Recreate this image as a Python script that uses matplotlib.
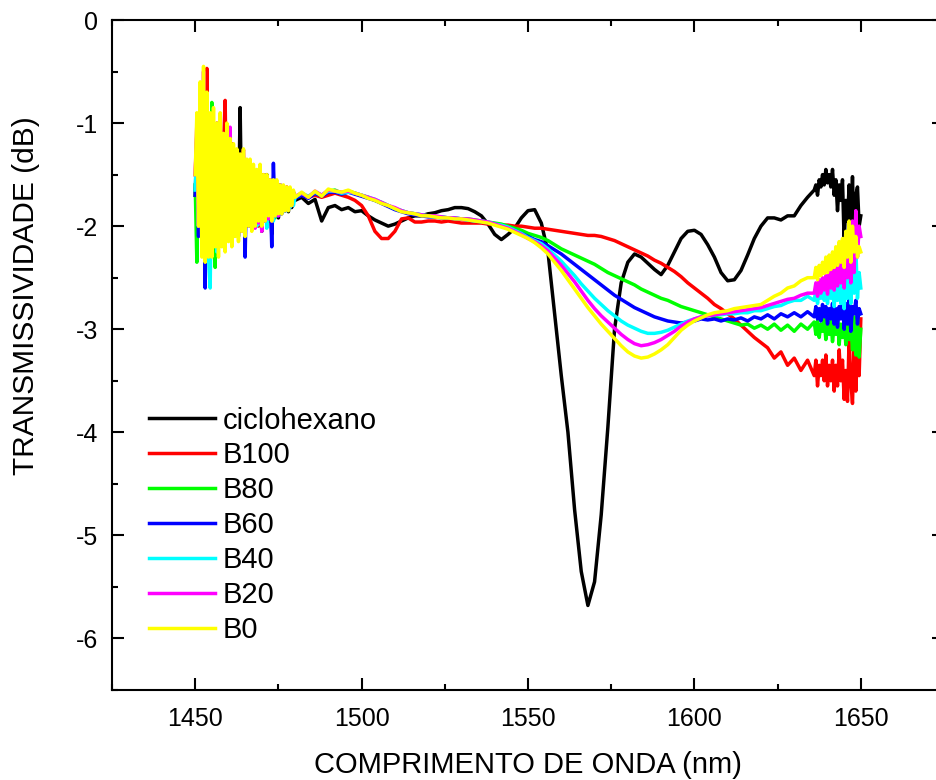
import numpy as np
import matplotlib
matplotlib.use("Agg")
import matplotlib.pyplot as plt
from matplotlib.ticker import MultipleLocator

plt.rcParams['font.family'] = ['Liberation Sans', 'DejaVu Sans']

# ---- shared wavelength grid (nm) ----
x_left = np.arange(1450.0, 1480.0, 0.5)     # 60 points, noisy start
x_mid = np.arange(1480.0, 1636.0, 2.0)      # 78 points
x_right = np.arange(1636.0, 1650.25, 0.5)   # 29 points, noisy end
wavelength = np.concatenate([x_left, x_mid, x_right])

labels = ['ciclohexano', 'B100', 'B80', 'B60', 'B40', 'B20', 'B0']
colors = ['#000000', '#FF0000', '#00FF00', '#0000FF', '#00FFFF', '#FF00FF', '#FFFF00']

# ---- ciclohexano ----
cic_left = [-1.7, -1.3, -1.9, -1.0, -2.1, -1.2, -2.2, -1.1, -2.0, -1.3, -2.2, -1.2, -2.0, -1.4, -2.1,
            -1.3, -2.0, -1.4, -2.1, -1.3, -1.95, -1.4, -2.05, -1.3, -2.0, -1.35, -1.95, -0.85, -2.0, -1.4,
            -1.95, -1.45, -2.0, -1.5, -1.9, -1.5,
            -2.0, -1.5, -1.95, -1.5, -2.05, -1.55, -1.95, -1.5, -1.95, -1.6, -2.08, -1.55, -1.9, -1.6,
            -1.92, -1.62, -1.88, -1.62, -1.85, -1.65, -1.86, -1.66, -1.82, -1.68]
cic_mid = [-1.75, -1.72, -1.78, -1.74, -1.95, -1.82, -1.8, -1.84, -1.82, -1.86,
           -1.85, -1.9, -1.94, -1.97, -2.0, -1.98, -1.95, -1.92, -1.9, -1.9,
           -1.88, -1.87, -1.85, -1.84, -1.82, -1.82, -1.83, -1.86, -1.9, -1.98,
           -2.08, -2.13, -2.08, -2.02, -1.92, -1.85, -1.84, -1.97, -2.25, -2.85,
           -3.45, -4.0, -4.75, -5.35, -5.68, -5.45, -4.8, -3.95, -3.0, -2.55,
           -2.35, -2.27, -2.3, -2.36, -2.42, -2.47, -2.38, -2.25, -2.12, -2.05,
           -2.04, -2.08, -2.18, -2.3, -2.45, -2.53, -2.52, -2.43, -2.28, -2.12,
           -2.0, -1.92, -1.92, -1.94, -1.9, -1.9, -1.8, -1.72]
cic_right = [-1.65, -1.6, -1.7, -1.55, -1.62, -1.5, -1.6, -1.45, -1.58, -1.5, -1.62, -1.45, -1.7, -1.55,
             -1.85, -1.6, -1.75, -1.55, -2.15, -1.75, -1.95, -1.6, -2.1, -1.52, -2.2, -1.7, -1.62, -2.0, -1.9]

# ---- B100 ----
b100_left = [-1.5, -1.1, -1.95, -0.9, -2.2, -0.8, -2.1, -0.47, -2.3, -1.0, -2.2, -1.1, -2.15, -1.0, -2.2,
             -1.2, -2.1, -1.25, -0.78, -2.1, -1.3, -2.05, -1.2, -2.1, -1.35, -2.0, -1.3, -2.05, -1.4, -1.26,
             -2.0, -1.45, -1.95, -1.5, -1.95, -1.5,
             -1.95, -1.5, -2.0, -1.45, -1.95, -1.5, -1.9, -1.55, -1.95, -1.55, -1.9, -1.58, -1.9, -1.6,
             -1.88, -1.6, -1.86, -1.62, -1.85, -1.62, -1.83, -1.65, -1.8, -1.67]
b100_mid = [-1.72, -1.7, -1.72, -1.7, -1.72, -1.7, -1.68, -1.7, -1.72, -1.75,
            -1.8, -1.9, -2.05, -2.12, -2.12, -2.05, -1.93, -1.92, -1.96, -1.96,
            -1.95, -1.95, -1.96, -1.95, -1.96, -1.97, -1.97, -1.97, -1.97, -1.98,
            -1.98, -1.99, -1.99, -2.0, -2.0, -2.01, -2.02, -2.02, -2.03, -2.04,
            -2.05, -2.06, -2.07, -2.08, -2.09, -2.09, -2.1, -2.12, -2.14, -2.17,
            -2.2, -2.23, -2.26, -2.29, -2.33, -2.36, -2.4, -2.44, -2.49, -2.55,
            -2.6, -2.65, -2.7, -2.76, -2.8, -2.85, -2.9, -2.96, -3.02, -3.08,
            -3.13, -3.18, -3.28, -3.22, -3.35, -3.28, -3.4, -3.3]
b100_right = [-3.45, -3.3, -3.55, -3.35, -3.45, -3.3, -3.5, -3.25, -3.55, -3.35, -3.5, -3.3, -3.6, -3.35,
              -3.55, -3.2, -3.5, -3.3, -3.68, -3.4, -3.7, -3.08, -3.5, -3.72, -3.15, -3.6, -3.2, -3.45, -2.9]

# ---- B80 ----
b80_left = [-1.6, -2.35, -1.2, -2.0, -0.9, -2.2, -1.0, -2.1, -1.1, -2.2, -0.8, -2.15, -2.4, -1.2, -2.1,
            -1.3, -2.0, -1.25, -2.1, -1.2, -2.0, -1.3, -2.05, -1.35, -2.0, -1.3, -2.0, -1.4, -1.95, -1.4,
            -2.0, -1.45, -1.95, -1.5, -1.9, -1.5,
            -1.98, -1.48, -1.95, -1.5, -2.0, -1.52, -1.92, -1.55, -1.95, -1.56, -1.9, -1.58, -1.92, -1.6,
            -1.88, -1.6, -1.86, -1.62, -1.85, -1.63, -1.82, -1.65, -1.8, -1.67]
b80_mid = [-1.72, -1.69, -1.72, -1.67, -1.7, -1.66, -1.65, -1.68, -1.66, -1.68,
           -1.7, -1.72, -1.75, -1.77, -1.8, -1.83, -1.85, -1.87, -1.88, -1.89,
           -1.9, -1.91, -1.91, -1.92, -1.92, -1.93, -1.93, -1.94, -1.95, -1.96,
           -1.97, -1.98, -2.0, -2.02, -2.04,
           -2.07, -2.09, -2.11, -2.14, -2.18, -2.22, -2.25, -2.28, -2.31, -2.34,
           -2.37, -2.41, -2.45, -2.48, -2.51, -2.54, -2.57, -2.61, -2.64, -2.67,
           -2.7, -2.72, -2.75, -2.78, -2.8, -2.82, -2.84, -2.86, -2.88, -2.9,
           -2.92, -2.94, -2.96, -2.95, -2.99, -2.96, -3.0, -2.95, -3.01, -2.96,
           -3.02, -2.95, -3.0]
b80_right = [-2.93, -3.05, -2.92, -3.08, -2.95, -3.02, -2.9, -3.1, -2.95, -3.05, -2.92, -3.12, -2.97, -3.05,
             -2.88, -3.15, -2.95, -3.08, -2.9, -3.15, -2.85, -3.1, -2.95, -3.2, -2.88, -3.25, -2.9, -3.27, -3.0]

# ---- B60 ----
b60_left = [-1.7, -1.2, -2.1, -0.9, -2.2, -1.1, -2.6, -0.9, -2.3, -1.1, -2.2, -1.2, -2.15, -1.1, -2.2,
            -1.3, -2.1, -1.3, -2.1, -1.2, -2.05, -1.3, -2.1, -1.35, -2.05, -1.35, -2.1, -1.4, -2.0, -1.4,
            -2.3, -1.45, -2.0, -1.5, -1.95, -1.5,
            -1.98, -1.5, -1.95, -1.5, -2.0, -1.55, -1.95, -1.55, -1.92, -1.58, -2.2, -1.39, -1.9, -1.6,
            -1.9, -1.6, -1.87, -1.62, -1.85, -1.63, -1.83, -1.65, -1.8, -1.67]
b60_mid = [-1.73, -1.7, -1.73, -1.68, -1.71, -1.67, -1.67, -1.69, -1.67, -1.69,
           -1.71, -1.73, -1.75, -1.78, -1.81, -1.84, -1.86, -1.88, -1.89, -1.9,
           -1.91, -1.91, -1.92, -1.92, -1.93, -1.93, -1.94, -1.95, -1.96, -1.97,
           -1.98, -2.0, -2.02, -2.04, -2.07,
           -2.1, -2.13, -2.15, -2.19, -2.23, -2.27, -2.32, -2.37, -2.42, -2.47,
           -2.52, -2.57, -2.62, -2.67, -2.71, -2.75, -2.79, -2.82, -2.85, -2.88,
           -2.9, -2.92, -2.93, -2.94, -2.93, -2.92, -2.9, -2.91, -2.9, -2.92,
           -2.9, -2.91, -2.89, -2.92, -2.88, -2.9, -2.86, -2.9, -2.85, -2.88,
           -2.84, -2.88, -2.83]
b60_right = [-2.88, -2.78, -2.9, -2.8, -2.92, -2.76, -2.88, -2.78, -2.95, -2.8, -2.9, -2.75, -2.95, -2.8,
             -2.98, -2.78, -2.9, -2.72, -3.0, -2.75, -2.95, -2.7, -3.02, -2.78, -2.85, -2.72, -2.95, -2.8, -2.85]

# ---- B40 ----
b40_left = [-1.65, -1.1, -2.0, -0.8, -2.1, -1.0, -2.2, -1.1, -2.3, -2.6, -1.2, -2.2, -1.1, -2.25, -1.2,
            -2.1, -1.3, -2.15, -1.2, -2.1, -1.3, -2.05, -1.3, -2.1, -1.35, -2.05, -1.4, -2.0, -1.4, -2.05,
            -1.45, -1.95, -1.45, -2.0, -1.5, -1.9,
            -1.48, -2.0, -1.5, -1.98, -1.52, -1.95, -1.55, -2.02, -1.55, -1.92, -1.58, -1.95, -1.6, -1.9,
            -1.6, -1.88, -1.62, -1.86, -1.63, -1.85, -1.65, -1.82, -1.66, -1.8]
b40_mid = [-1.72, -1.68, -1.71, -1.67, -1.7, -1.66, -1.66, -1.68, -1.67, -1.68,
           -1.7, -1.72, -1.74, -1.77, -1.8, -1.83, -1.85, -1.87, -1.88, -1.89,
           -1.9, -1.91, -1.91, -1.92, -1.92, -1.93, -1.94, -1.95, -1.95, -1.96,
           -1.98, -1.99, -2.01, -2.04, -2.07,
           -2.11, -2.14, -2.17, -2.22, -2.28, -2.34, -2.41, -2.48, -2.56, -2.63,
           -2.7, -2.76, -2.82, -2.87, -2.92, -2.96, -2.99, -3.02, -3.04, -3.04,
           -3.03, -3.01, -2.98, -2.95, -2.92, -2.9, -2.88, -2.87, -2.86, -2.86,
           -2.85, -2.85, -2.84, -2.84, -2.82, -2.82, -2.8, -2.78, -2.77, -2.74,
           -2.72, -2.72, -2.68]
b40_right = [-2.72, -2.62, -2.75, -2.6, -2.7, -2.58, -2.72, -2.6, -2.75, -2.55, -2.7, -2.58, -2.78, -2.55,
             -2.72, -2.5, -2.75, -2.52, -2.8, -2.45, -2.7, -2.35, -2.75, -2.28, -2.65, -2.2, -2.7, -2.45, -2.6]

# ---- B20 ----
b20_left = [-1.5, -1.0, -2.0, -0.7, -2.1, -0.5, -2.2, -0.9, -2.1, -1.1, -2.25, -1.0, -2.1, -1.2, -2.2,
            -1.2, -2.1, -1.3, -2.15, -1.25, -2.05, -1.04, -2.17, -1.3, -2.05, -1.35, -2.0, -1.4, -2.05, -1.4,
            -1.95, -1.45, -2.0, -1.5, -1.95, -1.5,
            -2.02, -1.48, -1.97, -1.5, -2.05, -1.52, -1.95, -1.55, -1.93, -1.55, -1.95, -1.58, -1.9, -1.6,
            -1.9, -1.6, -1.87, -1.62, -1.85, -1.63, -1.83, -1.65, -1.8, -1.67]
b20_mid = [-1.71, -1.68, -1.72, -1.66, -1.7, -1.65, -1.66, -1.67, -1.66, -1.68,
           -1.7, -1.72, -1.74, -1.77, -1.8, -1.82, -1.85, -1.87, -1.88, -1.89,
           -1.9, -1.9, -1.91, -1.92, -1.92, -1.93, -1.93, -1.94, -1.95, -1.96,
           -1.98, -2.0, -2.02, -2.05, -2.08,
           -2.12, -2.15, -2.19, -2.24, -2.31, -2.38, -2.46, -2.54, -2.63, -2.72,
           -2.8, -2.87, -2.93, -2.99, -3.05, -3.1, -3.14, -3.16, -3.15, -3.13,
           -3.1, -3.06, -3.02, -2.97, -2.93, -2.9, -2.88, -2.87, -2.86, -2.85,
           -2.84, -2.83, -2.82, -2.81, -2.8, -2.79, -2.77, -2.75, -2.73, -2.71,
           -2.7, -2.67, -2.65]
b20_right = [-2.65, -2.55, -2.68, -2.52, -2.65, -2.5, -2.62, -2.48, -2.66, -2.45, -2.6, -2.42, -2.62, -2.4,
             -2.58, -2.35, -2.55, -2.3, -2.6, -2.25, -2.5, -2.1, -2.55, -1.95, -2.45, -1.85, -2.3, -2.0, -2.1]

# ---- B0 ----
b0_left = [-1.5, -0.9, -2.0, -0.6, -2.3, -0.45, -2.35, -0.7, -2.3, -0.9, -2.3, -0.85, -2.2, -1.0, -2.3,
           -0.9, -2.2, -1.1, -2.25, -1.0, -2.15, -1.15, -2.2, -1.2, -2.1, -1.25, -2.15, -1.3, -2.05, -1.25,
           -2.1, -1.35, -2.0, -1.35, -2.05, -1.4, -2.0, -1.45, -1.95, -1.4, -2.0, -1.5, -1.95, -1.5,
           -1.9, -1.55, -1.95, -1.55, -1.9, -1.55, -1.88, -1.6, -1.88, -1.6, -1.85, -1.62, -1.85, -1.62,
           -1.8, -1.65]
b0_mid = [-1.72, -1.67, -1.72, -1.66, -1.71, -1.64, -1.66, -1.67, -1.65, -1.68,
          -1.7, -1.73, -1.75, -1.78, -1.8, -1.83, -1.86, -1.87, -1.88, -1.9,
          -1.9, -1.91, -1.92, -1.92, -1.93, -1.93, -1.94, -1.95, -1.96, -1.97,
          -1.99, -2.01, -2.03, -2.06, -2.09,
          -2.12, -2.16, -2.21, -2.27, -2.35, -2.43, -2.52, -2.61, -2.7, -2.79,
          -2.87, -2.95, -3.02, -3.09, -3.16, -3.22, -3.26, -3.28, -3.27, -3.24,
          -3.2, -3.15, -3.08, -3.01, -2.96, -2.92, -2.89, -2.86, -2.84, -2.83,
          -2.82, -2.8, -2.79, -2.78, -2.77, -2.76, -2.72, -2.68, -2.65, -2.6,
          -2.58, -2.53, -2.5]
b0_right = [-2.5, -2.4, -2.52, -2.38, -2.48, -2.35, -2.46, -2.3, -2.45, -2.28, -2.42, -2.25, -2.4, -2.2,
            -2.38, -2.15, -2.35, -2.12, -2.4, -2.05, -2.3, -1.95, -2.35, -2.0, -2.25, -2.1, -2.3, -2.2, -2.25]

series = [
    cic_left + cic_mid + cic_right,
    b100_left + b100_mid + b100_right,
    b80_left + b80_mid + b80_right,
    b60_left + b60_mid + b60_right,
    b40_left + b40_mid + b40_right,
    b20_left + b20_mid + b20_right,
    b0_left + b0_mid + b0_right,
]

x_ticks = [1450, 1500, 1550, 1600, 1650]
y_ticks = [0, -1, -2, -3, -4, -5, -6]

fig = plt.figure(figsize=(9.36, 7.8), dpi=100)
ax = fig.add_axes([112 / 936, 90 / 780, 832 / 936, 670 / 780])

for vals, lab, col in zip(series, labels, colors):
    ax.plot(wavelength, vals, color=col, lw=2.5, label=lab, solid_joinstyle='round')

ax.set_xlim(1425, 1675)
ax.set_ylim(-6.5, 0)
ax.set_xticks(x_ticks)
ax.set_yticks(y_ticks)
ax.set_yticklabels([str(v) for v in y_ticks])
ax.xaxis.set_minor_locator(MultipleLocator(25))
ax.yaxis.set_minor_locator(MultipleLocator(0.5))
ax.tick_params(which='both', direction='in', top=True, right=True, width=1.5, color='black')
ax.tick_params(which='major', length=8.6, labelsize=18)
ax.tick_params(which='minor', length=4.3)
ax.tick_params(axis='x', which='major', pad=12)
ax.tick_params(axis='y', which='major', pad=10)
for sp in ax.spines.values():
    sp.set_linewidth(1.5)

ax.set_xlabel('COMPRIMENTO DE ONDA (nm)', fontsize=21)
ax.xaxis.set_label_coords(0.5, -0.0915)
ax.set_ylabel('TRANSMISSIVIDADE (dB)', fontsize=21.5)
ax.yaxis.set_label_coords(-0.087, 0.588)

leg = ax.legend(loc='upper left', bbox_to_anchor=(0.0445, 0.423), frameon=False, fontsize=21,
                handlelength=2.25, handletextpad=0.28, labelspacing=0.235, borderpad=0, borderaxespad=0)
for h in leg.get_lines():
    h.set_linewidth(2.5)

fig.savefig('out.png', dpi=100)
